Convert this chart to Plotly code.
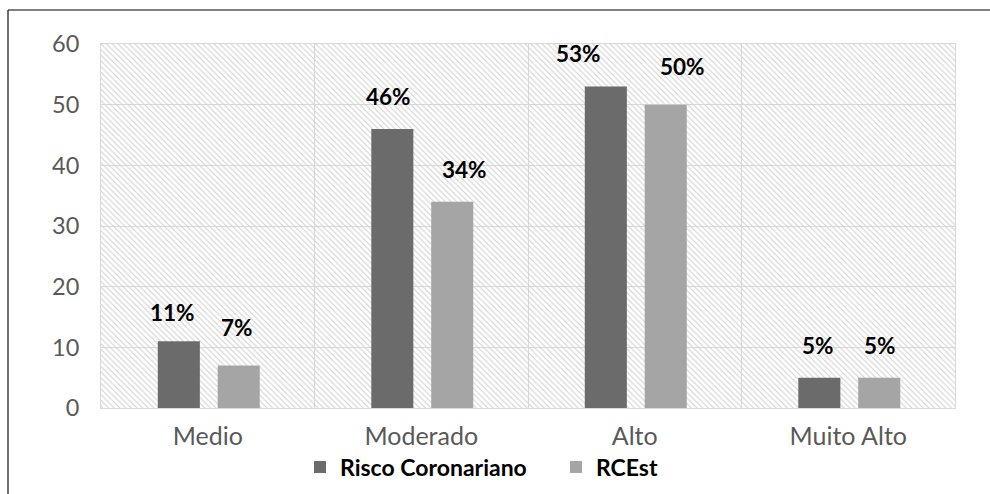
import plotly.graph_objects as go

categories = ["Medio", "Moderado", "Alto", "Muito Alto"]
risco_coronariano = [11, 46, 53, 5]
rcest = [7, 34, 50, 5]
series_names = ["Risco Coronariano", "RCEst"]
y_ticks = [0, 10, 20, 30, 40, 50, 60]

# styles
W, H = 990, 494
ML, MR, MT, MB = 101, 35, 44, 86
PW, PH = W - ML - MR, H - MT - MB
BAR_W = 0.197
OFF_DARK = -0.234
OFF_LIGHT = 0.0466
DARK = "#6b6b6b"
LIGHT = "#a5a5a5"
FONT = "Lato, 'Liberation Sans', sans-serif"
# manual label nudges (px) as placed in the original
xshift_dark = [-6, -3.5, -27, -1]
xshift_light = [-2, 12, 17, 1]
yshift_dark = [29, 32, 32.5, 32]
yshift_light = [38.5, 32, 38, 32]

fig = go.Figure()

# hatched plot background
fig.add_trace(go.Bar(
    x=categories, y=[max(y_ticks)] * len(categories), width=1, offset=-0.5,
    marker=dict(color="#d2d2d2", line=dict(width=0),
                pattern=dict(shape="\\", size=4, solidity=0.28, fillmode="replace")),
    showlegend=False, hoverinfo="skip",
))

fig.add_trace(go.Bar(
    x=categories, y=risco_coronariano, name=series_names[0],
    width=BAR_W, offset=OFF_DARK, marker=dict(color=DARK, line=dict(width=0)),
))
fig.add_trace(go.Bar(
    x=categories, y=rcest, name=series_names[1],
    width=BAR_W, offset=OFF_LIGHT, marker=dict(color=LIGHT, line=dict(width=0)),
))

annotations = []
for i, (a, b) in enumerate(zip(risco_coronariano, rcest)):
    for val, off, xs, ys in ((a, OFF_DARK, xshift_dark[i], yshift_dark[i]),
                             (b, OFF_LIGHT, xshift_light[i], yshift_light[i])):
        annotations.append(dict(
            x=i + off + BAR_W / 2, y=val, xref="x", yref="y",
            text=f"{val}%", showarrow=False, xshift=xs, yshift=ys,
            yanchor="middle", xanchor="center",
            font=dict(family=FONT, size=22.5, color="#000000", weight="bold"),
        ))

def px_x(p):
    return (p - ML) / PW

def px_y(p):
    return (H - MB - p) / PH

shapes = [
    dict(type="line", xref="paper", yref="paper", x0=px_x(8), x1=px_x(992),
         y0=px_y(10), y1=px_y(10), line=dict(color="#555555", width=1.6)),
    dict(type="line", xref="paper", yref="paper", x0=px_x(8), x1=px_x(8),
         y0=px_y(10), y1=px_y(496), line=dict(color="#333333", width=1.4)),
]

fig.update_layout(
    width=W, height=H,
    margin=dict(l=ML, r=MR, t=MT, b=MB, pad=0, autoexpand=False),
    paper_bgcolor="white", plot_bgcolor="white",
    barmode="overlay",
    font=dict(family=FONT, color="#595959"),
    annotations=annotations, shapes=shapes,
    showlegend=True,
    legend=dict(
        orientation="h", x=px_x(300), xanchor="left", y=px_y(467), yanchor="middle",
        font=dict(family=FONT, size=23, color="#000000", weight="bold"),
        entrywidth=211, entrywidthmode="pixels",
        bgcolor="rgba(0,0,0,0)",
    ),
    xaxis=dict(
        type="category", range=[-0.5, 3.5], tickson="boundaries",
        showgrid=True, gridcolor="#d9d9d9", gridwidth=1,
        showline=True, linecolor="#d9d9d9", linewidth=1, mirror=True,
        ticks="", tickfont=dict(family=FONT, size=25, color="#595959"),
        ticklabelstandoff=6, zeroline=False,
    ),
    yaxis=dict(
        range=[0, 60], tickvals=y_ticks, showgrid=True, gridcolor="#d9d9d9", gridwidth=1,
        showline=True, linecolor="#d9d9d9", linewidth=1, mirror=True,
        ticks="", tickfont=dict(family=FONT, size=23.5, color="#595959"),
        ticklabelstandoff=16, zeroline=False,
    ),
)

fig.write_html("out.html")
